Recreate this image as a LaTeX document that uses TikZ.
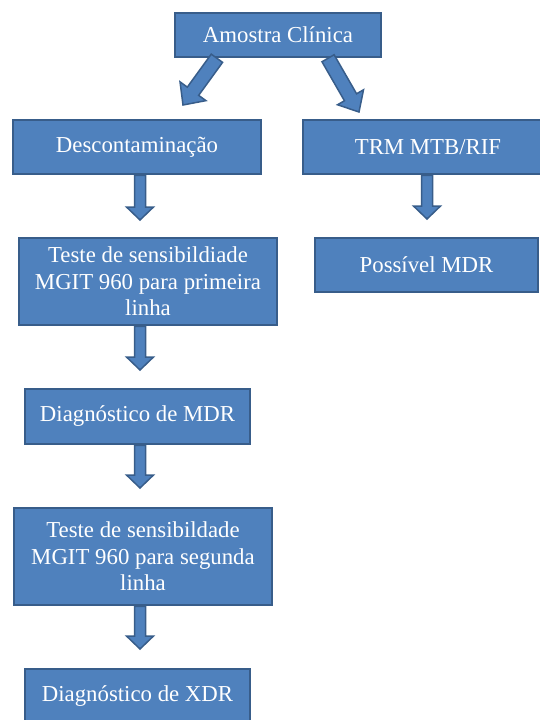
\documentclass[tikz,border=0pt]{standalone}
\usepackage{fontspec}
\setmainfont{Liberation Serif}
\usetikzlibrary{calc}
\definecolor{boxfill}{HTML}{4F81BD}
\definecolor{boxline}{HTML}{385D8A}
% block arrow: start, tip, shaft half-width, head half-width, head length
\newcommand\blockarrow[5]{%
  \coordinate (bh) at ($(#2)!#5!(#1)$);
  \filldraw[arrowstyle] ($(#1)!#3!90:(#2)$) -- ($(bh)!#3!90:(#2)$) -- ($(bh)!#4!90:(#2)$) -- (#2) -- ($(bh)!#4!-90:(#2)$) -- ($(bh)!#3!-90:(#2)$) -- ($(#1)!#3!-90:(#2)$) -- cycle;}
\begin{document}
\begin{tikzpicture}[x=1pt,y=1pt,
  box/.style={draw=boxline, fill=boxfill, line width=2.5pt, text=white,
    font=\fontsize{22.8}{26.5}\selectfont, align=center, inner sep=0pt},
  arrowstyle/.style={draw=boxline, fill=boxfill, line width=1.5pt, line join=miter}]
\useasboundingbox (0,0) rectangle (540,-720);
\node[box, minimum width=206, minimum height=44] (amostra) at (278,-35) {Amostra Clínica};
\node[box, minimum width=248, minimum height=54] (desc) at (137,-147) {Descontaminação};
\node[box, minimum width=250, minimum height=54] (trm) at (428,-147) {TRM MTB/RIF};
\node[box, minimum width=223, minimum height=54] (poss) at (426.5,-265) {Possível MDR};
\node[box, minimum width=258, minimum height=87] (t1) at (148,-281.5) {Teste de sensibildiade\\MGIT 960 para primeira\\linha};
\node[box, minimum width=225, minimum height=55] (mdr) at (137.5,-416.5) {Diagnóstico de MDR};
\node[box, minimum width=258, minimum height=97] (t2) at (143,-556.5) {Teste de sensibildade\\MGIT 960 para segunda\\linha};
\node[box, minimum width=225, minimum height=55] (xdr) at (137.5,-696.5) {Diagnóstico de XDR};
% diagonal arrows
\coordinate (s1) at ($(amostra.south west)!0.207!(amostra.south east)$);
\coordinate (e1) at (183,-105);
\blockarrow{s1}{e1}{7pt}{16pt}{17pt}
\coordinate (s2) at ($(amostra.south west)!0.74!(amostra.south east)$);
\coordinate (e2) at (359,-112);
\blockarrow{s2}{e2}{7pt}{15pt}{17pt}
% vertical arrows
\coordinate (e3) at (140,-220);
\coordinate (s3) at (desc.south -| e3);
\blockarrow{s3}{e3}{5.5pt}{13.5pt}{13pt}
\coordinate (e4) at (427,-219);
\coordinate (s4) at (trm.south -| e4);
\blockarrow{s4}{e4}{5.5pt}{13.5pt}{13pt}
\coordinate (e5) at (140,-370);
\coordinate (s5) at (t1.south -| e5);
\blockarrow{s5}{e5}{5.5pt}{13.5pt}{13pt}
\coordinate (e6) at (140,-488);
\coordinate (s6) at (mdr.south -| e6);
\blockarrow{s6}{e6}{5.5pt}{13.5pt}{13pt}
\coordinate (e7) at (140,-649);
\coordinate (s7) at (t2.south -| e7);
\blockarrow{s7}{e7}{5.5pt}{13.5pt}{13pt}
\end{tikzpicture}
\end{document}
